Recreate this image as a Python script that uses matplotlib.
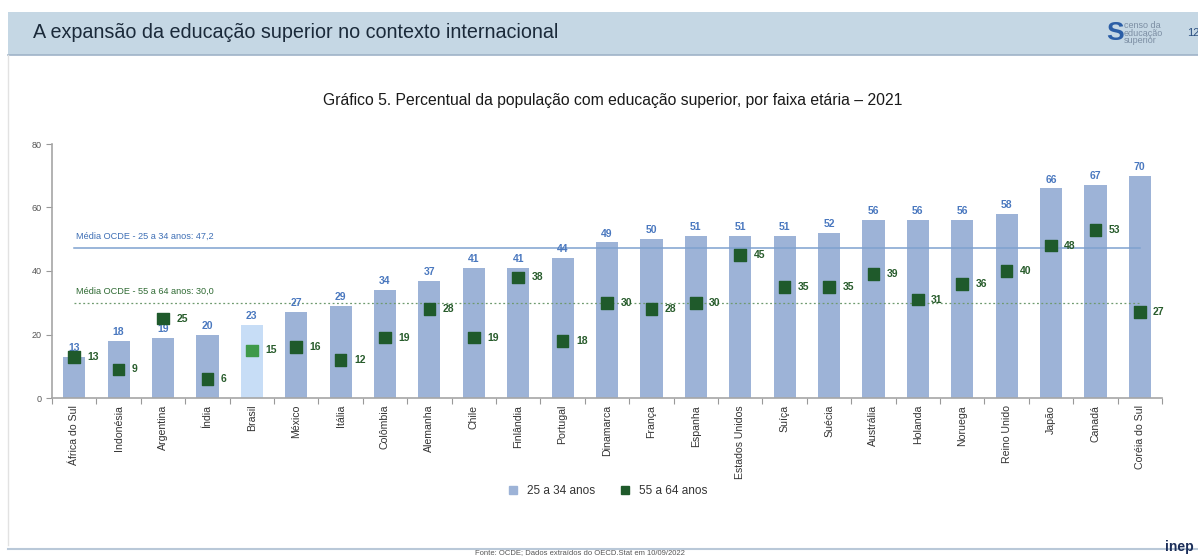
import numpy as np
import matplotlib.pyplot as plt
from matplotlib.patches import Rectangle
from matplotlib.lines import Line2D

# Data
paises = ["África do Sul", "Indonésia", "Argentina", "Índia", "Brasil", "México", "Itália",
          "Colômbia", "Alemanha", "Chile", "Finlândia", "Portugal", "Dinamarca", "França",
          "Espanha", "Estados Unidos", "Suíça", "Suécia", "Austrália", "Holanda", "Noruega",
          "Reino Unido", "Japão", "Canadá", "Coréia do Sul"]
jovens = [13, 18, 19, 20, 23, 27, 29, 34, 37, 41, 41, 44, 49, 50, 51, 51, 51, 52, 56, 56, 56, 58, 66, 67, 70]
idosos = [13, 9, 25, 6, 15, 16, 12, 19, 28, 19, 38, 18, 30, 28, 30, 45, 35, 35, 39, 31, 36, 40, 48, 53, 27]
media_jovens = 47.2
media_idosos = 30.0

SANS = ["Liberation Sans", "DejaVu Sans"]
plt.rcParams["font.family"] = SANS

bar_col = "#9db3d7"
bar_br = "#c7ddf6"
mk_col = "#1f5a2b"
mk_br = "#3f9a4a"
lbl_blue = "#4a78bf"

fig = plt.figure(figsize=(11.98, 5.57), dpi=100)
W, H = 1198, 557

# header band
fig.patches.append(Rectangle((8 / W, 1 - 55 / H), 1, 43 / H, transform=fig.transFigure,
                             facecolor="#c5d7e4", edgecolor="none", zorder=0))
fig.add_artist(Line2D([8 / W, 1], [1 - 55 / H, 1 - 55 / H], color="#9fb3c8", lw=1.2))
fig.add_artist(Line2D([8 / W, 8 / W], [1 - 55 / H, 12 / H], color="#e2e2e2", lw=1))
fig.text(33 / W, 1 - 33 / H, "A expansão da educação superior no contexto internacional",
         fontsize=14.2, color="#1b2a3a", va="center", ha="left")

# logo area
fig.text(1106 / W, 1 - 33 / H, "S", fontsize=19, fontweight="bold",
         color="#2b5ea6", va="center", ha="left")
fig.text(1124 / W, 1 - 33 / H, "censo da\neducação\nsuperior", fontsize=6.5, color="#7c8ea3",
         va="center", ha="left", linespacing=0.85)
fig.text(1187 / W, 1 - 33 / H, "12", fontsize=8, color="#2b4f80", va="center")

# footer
fig.add_artist(Line2D([8 / W, 1], [8 / H, 8 / H], color="#b9c8d8", lw=1.5))
fig.text(580 / W, 4 / H, "Fonte: OCDE; Dados extraídos do OECD.Stat em 10/09/2022",
         fontsize=5.5, color="#555555", ha="center", va="center")
fig.text(1165 / W, 10 / H, "inep", fontsize=10, fontweight="bold",
         color="#1c2f5a", ha="left", va="center")

# chart title
fig.text(613 / W, 1 - 100 / H,
         "Gráfico 5. Percentual da população com educação superior, por faixa etária – 2021",
         fontsize=11.3, color="#1a1a1a", ha="center", va="center")

ax = fig.add_axes([52 / W, 1 - 398 / H, 1110 / W, 254 / H])
x = np.arange(len(paises))
cores = [bar_br if p == "Brasil" else bar_col for p in paises]
ax.bar(x, jovens, width=0.5, color=cores, zorder=2)

for i, v in enumerate(jovens):
    ax.text(i, v + 1.2, str(v), ha="center", va="bottom", fontsize=7.5, fontweight="bold",
            color=lbl_blue, zorder=4)

mcores = [mk_br if p == "Brasil" else mk_col for p in paises]
ax.scatter(x, idosos, marker="s", s=70, c=mcores, zorder=5)
for i, v in enumerate(idosos):
    ax.text(i + 0.3, v, str(v), ha="left", va="center", fontsize=7.5, fontweight="bold",
            color="#285c2c", zorder=6)

# OECD averages
ax.plot([0, len(paises) - 1], [media_jovens, media_jovens], color="#7ea2cf", lw=1.1, zorder=3)
ax.plot([0, len(paises) - 1], [media_idosos, media_idosos], color="#6e9a6e", lw=0.9,
        linestyle=(0, (1.5, 2)), zorder=3)
ax.text(0.05, media_jovens + 2.2, "Média OCDE - 25 a 34 anos: 47,2", fontsize=6.6,
        color="#3e6fb5", va="bottom", ha="left")
ax.text(0.05, media_idosos + 2.2, "Média OCDE - 55 a 64 anos: 30,0", fontsize=6.6,
        color="#2f6a33", va="bottom", ha="left")

ax.set_xlim(-0.5, len(paises) - 0.5)
ax.set_ylim(0, 80)
ax.set_yticks([0, 20, 40, 60, 80])
ax.tick_params(axis="y", labelsize=6.5, labelcolor="#555555", color="#999999", length=4, width=0.8)
ax.set_xticks(x)
ax.set_xticklabels(paises, rotation=90, fontsize=7.6, color="#333333")
ax.tick_params(axis="x", length=0, pad=5)
ax.set_xticks(np.arange(-0.5, len(paises)), minor=True)
ax.tick_params(axis="x", which="minor", length=4, color="#999999", width=0.8)
for s in ["top", "right"]:
    ax.spines[s].set_visible(False)
for s in ["left", "bottom"]:
    ax.spines[s].set_color("#a6a6a6")
    ax.spines[s].set_linewidth(1.2)
ax.patch.set_alpha(0)

handles = [Line2D([], [], marker="s", linestyle="none", markersize=6, color=bar_col),
           Line2D([], [], marker="s", linestyle="none", markersize=6, color=mk_col)]
fig.legend(handles, ["25 a 34 anos", "55 a 64 anos"], loc="center", ncol=2,
           bbox_to_anchor=(604 / W, 1 - 491 / H), frameon=False, handletextpad=0.2,
           columnspacing=1.5, prop={"size": 8.5}, labelcolor="#333333")

fig.savefig("out.png", dpi=100)
